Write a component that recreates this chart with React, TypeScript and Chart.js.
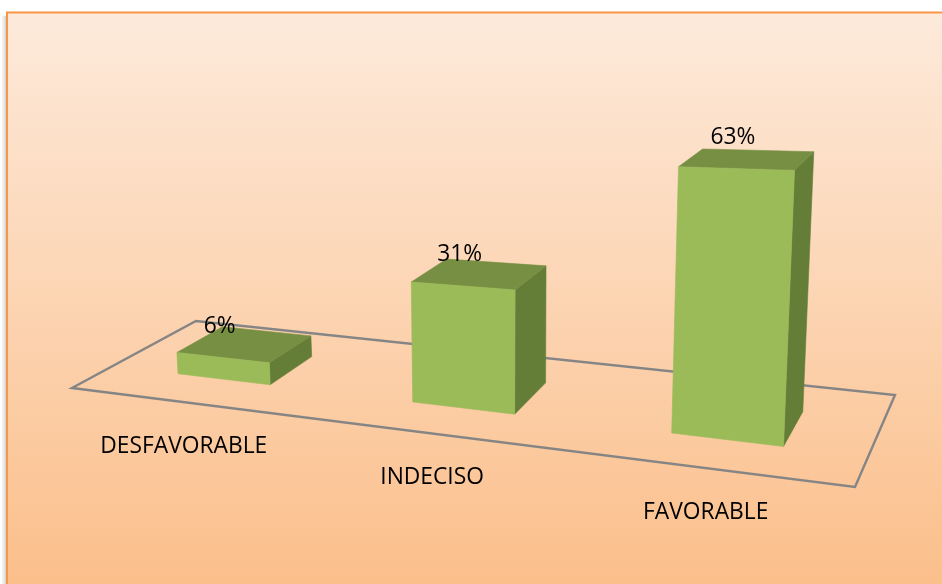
import { useEffect, useRef } from "react";
import { Chart, registerables } from "chart.js";

Chart.register(...registerables);

// ---- data ----
const categories = ["DESFAVORABLE", "INDECISO", "FAVORABLE"];
const values = [6, 31, 63];
const valueLabels = ["6%", "31%", "63%"];
const yMax = 100;

// ---- view / projection settings ----
const CANVAS_W = 942;
const CANVAS_H = 584;
const floorFL = [72, 388];
const floorFR = [855, 487];
const floorBL = [196, 321];
const floorBR = [895, 395];
const depthFront = 0.33;
const depthBack = 0.72;

function warp(t: number) {
  return 0.855 * t + 0.145 * t * t;
}

function proj(u: number, v: number, w: number): [number, number] {
  const fx = floorFL[0] + (floorFR[0] - floorFL[0]) * u;
  const fy = floorFL[1] + (floorFR[1] - floorFL[1]) * u;
  const bx = floorBL[0] + (floorBR[0] - floorBL[0]) * u;
  const by = floorBL[1] + (floorBR[1] - floorBL[1]) * u;
  const x0 = fx + w * (bx - fx);
  const y0 = fy + w * (by - fy);
  const k = (3.45 + 1.05 * u) * (1 - 0.15 * (w - 0.33));
  return [x0 + v * 0.45 * (u - 0.5), y0 - v * k];
}

function poly(ctx: CanvasRenderingContext2D, pts: [number, number][], fill: string) {
  ctx.beginPath();
  ctx.moveTo(pts[0][0], pts[0][1]);
  for (let i = 1; i < pts.length; i++) ctx.lineTo(pts[i][0], pts[i][1]);
  ctx.closePath();
  ctx.fillStyle = fill;
  ctx.fill();
  ctx.strokeStyle = fill;
  ctx.lineWidth = 0.6;
  ctx.stroke();
}

const backgroundPlugin = {
  id: "panelBackground",
  beforeDraw(chart: any) {
    const ctx: CanvasRenderingContext2D = chart.ctx;
    ctx.save();
    ctx.fillStyle = "#ffffff";
    ctx.fillRect(0, 0, CANVAS_W, CANVAS_H);
    // left shadow
    const sh = ctx.createLinearGradient(1, 0, 7, 0);
    sh.addColorStop(0, "rgba(200,200,200,0)");
    sh.addColorStop(1, "rgba(170,170,170,0.7)");
    ctx.fillStyle = sh;
    ctx.fillRect(1, 16, 6, CANVAS_H);
    // panel gradient
    const g = ctx.createLinearGradient(0, 12, 0, CANVAS_H);
    g.addColorStop(0, "#FDEADB");
    g.addColorStop(1, "#FBBF8B");
    ctx.fillStyle = g;
    ctx.fillRect(7, 12, CANVAS_W, CANVAS_H);
    ctx.strokeStyle = "#F79646";
    ctx.lineWidth = 2;
    ctx.beginPath();
    ctx.moveTo(7, CANVAS_H + 5);
    ctx.lineTo(7, 12.5);
    ctx.lineTo(CANVAS_W + 5, 12.5);
    ctx.stroke();
    // floor
    const c = [proj(0, 0, 0), proj(1, 0, 0), proj(1, 0, 1), proj(0, 0, 1)];
    ctx.beginPath();
    ctx.moveTo(c[0][0], c[0][1]);
    for (let i = 1; i < 4; i++) ctx.lineTo(c[i][0], c[i][1]);
    ctx.closePath();
    ctx.strokeStyle = "#858585";
    ctx.lineWidth = 2.4;
    ctx.lineJoin = "miter";
    ctx.stroke();
    ctx.restore();
  },
};

const bars3dPlugin = {
  id: "bars3d",
  afterDatasetsDraw(chart: any) {
    const ctx: CanvasRenderingContext2D = chart.ctx;
    const ca = chart.chartArea;
    const yScale = chart.scales.y;
    const meta = chart.getDatasetMeta(0);
    ctx.save();
    meta.data.forEach((el: any, i: number) => {
      const p = el.getProps(["x", "y", "base", "width"], true);
      const t0 = (p.x - p.width / 2 - ca.left) / ca.width;
      const t1 = (p.x + p.width / 2 - ca.left) / ca.width;
      const tc = (p.x - ca.left) / ca.width;
      const u0 = warp(t0);
      const u1 = warp(t1);
      const uc = warp(tc);
      const v = yScale.getValueForPixel(p.y) - yScale.getValueForPixel(p.base);
      const w0 = depthFront;
      const w1 = depthBack;
      poly(ctx, [proj(u1, 0, w0), proj(u1, 0, w1), proj(u1, v, w1), proj(u1, v, w0)], "#647E37");
      poly(ctx, [proj(u0, v, w0), proj(u1, v, w0), proj(u1, v, w1), proj(u0, v, w1)], "#778F43");
      poly(ctx, [proj(u0, 0, w0), proj(u1, 0, w0), proj(u1, v, w0), proj(u0, v, w0)], "#9BBB59");

      ctx.fillStyle = "#000000";
      ctx.font = '22.8px "Open Sans"';
      ctx.textAlign = "center";
      ctx.textBaseline = "alphabetic";
      const top = proj(uc, v, w0);
      ctx.fillText(valueLabels[i], top[0] - 3, top[1] - 24.5);
      const fl = proj(uc, 0, 0);
      ctx.fillText(categories[i], fl[0] - 3, fl[1] + 50);
    });
    ctx.restore();
  },
};

export default function App() {
  const ref = useRef<HTMLCanvasElement | null>(null);
  useEffect(() => {
    if (!ref.current) return;
    const chart = new Chart(ref.current, {
      type: "bar",
      data: {
        labels: categories,
        datasets: [
          {
            data: values,
            backgroundColor: "rgba(0,0,0,0)",
            borderWidth: 0,
            categoryPercentage: 0.9,
            barPercentage: 0.45,
          },
        ],
      },
      options: {
        responsive: false,
        animation: false,
        layout: { padding: 0 },
        plugins: { legend: { display: false }, tooltip: { enabled: false } },
        scales: {
          x: { type: "category", display: false, offset: true },
          y: { display: false, min: 0, max: yMax },
        },
      },
      plugins: [backgroundPlugin, bars3dPlugin],
    });
    return () => chart.destroy();
  }, []);
  return (
    <div style={{ position: "fixed", left: 0, top: 0, width: CANVAS_W, height: CANVAS_H }}>
      <canvas ref={ref} width={CANVAS_W} height={CANVAS_H} style={{ display: "block" }} />
    </div>
  );
}
